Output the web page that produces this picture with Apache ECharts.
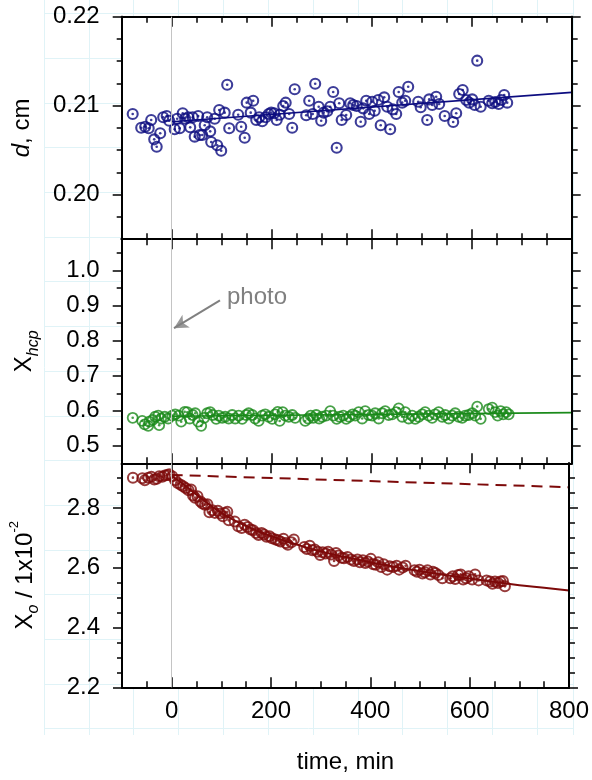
<!DOCTYPE html>
<html><head><meta charset="utf-8">
<script src="https://cdn.jsdelivr.net/npm/echarts@6/dist/echarts.min.js"></script>
<style>html,body{margin:0;padding:0;background:#fff}#c{width:592px;height:780px}</style>
</head><body><div id="c"></div>
<script>
const FONT = 'Liberation Sans, Arial, Helvetica, sans-serif';

// ---- tick values ----
const timeTicks = [0, 200, 400, 600, 800];
const timeMinorTicks = [-50, 50, 100, 150, 250, 300, 350, 450, 500, 550, 650, 700, 750];
const dTicks = [0.20, 0.21, 0.22];
const dMinorTicks = [0.1975, 0.2025, 0.205, 0.2075, 0.2125, 0.215, 0.2175];
const hcpTicks = [0.5, 0.6, 0.7, 0.8, 0.9, 1.0];
const hcpMinorTicks = [0.55, 0.65, 0.75, 0.85, 0.95, 1.05];
const xoTicks = [2.2, 2.4, 2.6, 2.8];
const xoMinorTicks = [2.25, 2.3, 2.35, 2.45, 2.5, 2.55, 2.65, 2.7, 2.75, 2.85, 2.9];

// ---- panel 1: d, cm ----
const dTime = [-78,-61,-53,-46,-41,-35,-30,-23,-17,-10,
  -5,6,11,16,22,27,33,37,42,46,
  53,56,61,66,71,77,79,86,91,95,
  99,106,111,115,133,139,146,150,158,163,
  169,175,181,188,194,199,205,210,216,223,
  228,235,241,246,269,275,282,287,294,299,
  304,311,317,323,330,335,340,
  349,357,363,370,378,383,389,395,401,406,
  413,418,425,431,437,442,449,454,461,467,
  473,493,498,511,515,521,529,535,546,563,
  569,575,582,589,595,601,606,611,618,634,
  641,647,654,659,665,671];
const dValue = [0.20907,0.20753,0.20764,0.20746,0.20839,0.20622,0.20539,0.20690,0.20870,0.20884,
  0.20831,0.20735,0.20854,0.20746,0.20915,0.20854,0.20870,0.20757,0.20870,0.20652,
  0.20884,0.20671,0.20671,0.20780,0.20870,0.20712,0.20592,0.20854,0.20555,0.20952,
  0.20494,0.20922,0.21236,0.20746,0.20899,0.20764,0.20640,0.21034,0.20922,0.21056,
  0.20839,0.20870,0.20825,0.20870,0.20907,0.20922,0.20915,0.20839,0.20899,0.20997,
  0.21034,0.20907,0.20753,0.21184,0.20892,0.21056,0.20907,0.21247,0.20989,0.20831,
  0.20922,0.20937,0.20989,0.21154,0.20528,0.21027,0.20839,
  0.20895,0.21027,0.21008,0.20997,0.20820,0.20970,0.21056,0.20907,0.21045,0.20944,
  0.21064,0.20780,0.21094,0.20989,0.20735,0.20959,0.20907,0.21154,0.21034,0.21056,
  0.21213,0.21045,0.20982,0.20839,0.21071,0.21008,0.21101,0.21019,0.20884,0.20817,
  0.20915,0.21131,0.21176,0.21064,0.21034,0.21071,0.21008,0.21506,0.20989,0.21056,
  0.21027,0.21042,0.21019,0.21064,0.21120,0.21034];
const dFitTime = [0, 800];
const dFitValue = [0.2082, 0.2115];

// ---- panel 2: X_hcp ----
const hcpTime = [-78,-59,-54,-47,-45,-38,-33,-27,-25,-21,
  -14,-7,1,7,14,19,26,31,36,42,
  47,53,59,65,71,77,82,89,94,101,
  107,114,121,127,134,141,149,154,161,167,
  174,181,187,194,201,207,212,216,222,227,
  234,241,247,267,273,278,283,289,295,301,
  309,317,323,330,336,343,349,355,362,367,
  374,381,387,394,401,407,414,421,427,434,
  441,449,454,461,467,474,481,487,494,501,
  507,514,521,527,534,541,547,554,561,567,
  574,581,587,594,601,607,611,618,634,641,
  647,652,658,663,669,674];
const hcpValue = [0.580,0.571,0.561,0.557,0.569,0.574,0.583,0.586,0.559,0.578,
  0.583,0.578,0.586,0.590,0.586,0.569,0.597,0.596,0.578,0.588,
  0.593,0.569,0.557,0.580,0.593,0.596,0.588,0.577,0.586,0.580,
  0.583,0.578,0.588,0.578,0.586,0.577,0.588,0.593,0.588,0.578,
  0.571,0.586,0.590,0.583,0.577,0.590,0.597,0.571,0.596,0.586,
  0.583,0.588,0.580,0.571,0.578,0.586,0.580,0.588,0.578,0.583,
  0.586,0.599,0.586,0.577,0.583,0.586,0.577,0.583,0.590,0.586,
  0.596,0.578,0.599,0.588,0.586,0.593,0.578,0.593,0.599,0.588,
  0.590,0.596,0.607,0.583,0.596,0.578,0.586,0.577,0.583,0.590,
  0.596,0.586,0.580,0.590,0.596,0.583,0.588,0.578,0.586,0.593,
  0.583,0.580,0.586,0.588,0.593,0.586,0.612,0.577,0.605,0.609,
  0.596,0.586,0.599,0.590,0.596,0.590];
const hcpFitTime = [0, 800];
const hcpFitValue = [0.5845, 0.5946];

// ---- panel 3: X_o ----
const xoTime = [-78,-59,-54,-47,-41,-35,-30,-25,-19,-14,
  -9,-5,1,7,12,18,23,28,34,39,
  43,47,52,58,62,67,72,76,82,87,
  93,98,103,107,112,115,127,134,141,147,
  153,159,164,170,175,181,186,191,197,202,
  209,214,219,225,230,234,241,246,267,272,
  278,283,288,294,299,304,310,315,321,327,
  331,336,342,347,354,361,367,374,379,385,
  390,395,401,406,411,416,422,427,434,439,
  446,453,458,465,471,489,494,499,505,510,
  515,521,526,531,537,545,561,566,571,577,
  582,587,593,598,605,611,618,634,641,646,
  651,657,662,667,671];
const xoValue = [2.902,2.900,2.893,2.902,2.905,2.896,2.898,2.907,2.905,2.909,
  2.911,2.913,2.907,2.893,2.884,2.878,2.873,2.867,2.860,2.862,
  2.842,2.835,2.840,2.822,2.815,2.811,2.813,2.786,2.793,2.784,
  2.791,2.782,2.773,2.784,2.788,2.759,2.755,2.739,2.733,2.744,
  2.737,2.728,2.726,2.717,2.710,2.717,2.712,2.704,2.706,2.699,
  2.695,2.692,2.688,2.697,2.683,2.677,2.686,2.695,2.670,2.663,
  2.674,2.659,2.661,2.654,2.643,2.652,2.648,2.654,2.645,2.623,
  2.650,2.641,2.634,2.632,2.636,2.628,2.623,2.628,2.619,2.625,
  2.616,2.621,2.630,2.612,2.610,2.619,2.603,2.612,2.594,2.605,
  2.603,2.607,2.594,2.601,2.607,2.592,2.587,2.594,2.581,2.585,
  2.592,2.578,2.587,2.583,2.576,2.565,2.565,2.572,2.563,2.576,
  2.578,2.561,2.565,2.572,2.561,2.578,2.558,2.558,2.554,2.547,
  2.554,2.549,2.554,2.556,2.538];
const xoFitTime = [0,25,50,100,150,200,250,300,350,400,450,500,550,600,650,700,750,800];
const xoFitValue = [2.908,2.878,2.845,2.784,2.740,2.706,2.679,2.655,2.636,2.619,2.603,2.589,2.576,2.564,2.553,2.542,2.533,2.524];
const xoRefTime = [0, 800];
const xoRefValue = [2.911, 2.870];

// ---- build ----
const zip = (a, b) => a.map((v, i) => [v, b[i]]);
const BG = '#e0f3f7';
const grid = [
  {left: 44, right: 19, top: 0, bottom: 45, show: false, z: 0},
  {left: 44, right: 19, top: 13.5, height: 715.2, show: false, z: 0},
  {left: 121.7, right: 20.3, top: 16.7, height: 222.5, show: true, backgroundColor: '#fff', borderWidth: 0, z: 1},
  {left: 121.7, right: 20.3, top: 239.2, height: 224.1, show: true, backgroundColor: '#fff', borderWidth: 0, z: 1},
  {left: 121.7, right: 20.3, top: 463.3, height: 224, show: true, backgroundColor: '#fff', borderWidth: 0, z: 1}
];
const hidden = {axisLine: {show: false}, axisTick: {show: false}, axisLabel: {show: false}};
const xAxis = [
  Object.assign({type: 'value', gridIndex: 0, min: 0, max: 11.8, interval: 1, z: 0,
    splitLine: {show: true, lineStyle: {color: BG, width: 1}}}, hidden),
  Object.assign({type: 'value', gridIndex: 1, min: 0, max: 1, splitLine: {show: false}, z: 0}, hidden)
];
const yAxis = [
  Object.assign({type: 'value', gridIndex: 0, min: 0, max: 1, splitLine: {show: false}, z: 0}, hidden),
  Object.assign({type: 'value', gridIndex: 1, min: 0, max: 16, interval: 1, z: 0,
    splitLine: {show: true, lineStyle: {color: BG, width: 1}}}, hidden)
];
const axLine = {show: true, onZero: false, lineStyle: {color: '#000', width: 2}};
const labelStyle = {fontSize: 24, color: '#000', fontFamily: FONT};

function addX(gi, showLabels, name) {
  const base = xAxis.length;
  [['bottom', timeTicks, 10], ['bottom', timeMinorTicks, 6], ['top', timeTicks, 10], ['top', timeMinorTicks, 6]]
    .forEach(([pos, vals, len], k) => {
      const ax = {type: 'value', gridIndex: gi, position: pos, min: -100, max: 800, z: 3,
        axisLine: axLine, splitLine: {show: false},
        axisTick: {show: true, inside: true, length: len, customValues: vals, lineStyle: {color: '#000', width: 1.5}},
        axisLabel: {show: false}};
      if (k === 0 && showLabels) {
        ax.axisLabel = Object.assign({show: true, customValues: timeTicks, margin: 12, showMaxLabel: true}, labelStyle);
        ax.name = name; ax.nameLocation = 'middle'; ax.nameGap = 63;
        ax.nameTextStyle = Object.assign({}, labelStyle);
      }
      xAxis.push(ax);
    });
  return base;
}
function addY(gi, min, max, major, minor, fmt, name, rich, nameGap) {
  const base = yAxis.length;
  [['left', major, 9], ['left', minor, 5], ['right', major, 9], ['right', minor, 6]]
    .forEach(([pos, vals, len], k) => {
      const ax = {type: 'value', gridIndex: gi, position: pos, min: min, max: max, z: 3,
        axisLine: axLine, splitLine: {show: false},
        axisTick: {show: true, inside: false, length: len, customValues: vals, lineStyle: {color: '#000', width: 1.5}},
        axisLabel: {show: false}};
      if (k === 0) {
        ax.axisLabel = Object.assign({show: true, customValues: major, margin: 22, formatter: fmt,
          showMinLabel: true, showMaxLabel: true}, labelStyle);
        ax.name = name; ax.nameLocation = 'middle'; ax.nameRotate = 90; ax.nameGap = nameGap;
        ax.nameTextStyle = Object.assign({rich: rich}, labelStyle);
      }
      yAxis.push(ax);
    });
  return base;
}
const nTok = {fontSize: 24, fontFamily: FONT, color: '#000', lineHeight: 34};
const x0 = addX(2, false);
const y0 = addY(2, 0.195, 0.22, dTicks, dMinorTicks, v => v.toFixed(2), '{i|d}{n|, cm}',
  {n: nTok, i: Object.assign({}, nTok, {fontStyle: 'italic'})}, 82);
const x1 = addX(3, false);
const y1 = addY(3, 0.45, 1.09, hcpTicks, hcpMinorTicks, v => v.toFixed(1), '{n|X}{s|hcp}',
  {n: nTok, s: {fontSize: 16, fontFamily: FONT, fontStyle: 'italic', color: '#000', verticalAlign: 'bottom', lineHeight: 18}}, 80);
const x2 = addX(4, true, 'time, min');
const y2 = addY(4, 2.2, 2.95, xoTicks, xoMinorTicks, v => v.toFixed(1), '{n|X}{s|o}{n| / 1x10}{p|-2}',
  {n: nTok, s: {fontSize: 16, fontFamily: FONT, fontStyle: 'italic', color: '#000', verticalAlign: 'bottom', lineHeight: 18},
   p: {fontSize: 13, fontFamily: FONT, color: '#000', verticalAlign: 'top', lineHeight: 24}}, 80);

const vline = {silent: true, symbol: 'none', animation: false, label: {show: false},
  lineStyle: {color: '#c4c4c4', width: 1, type: 'solid'}, data: [{xAxis: 0}]};
const BLUE = '#0c0c80', GREEN = '#1a8a1a', RED = '#7d0a0a';
function rings(xi, yi, data, color, size, bw) {
  return [
    {type: 'scatter', xAxisIndex: xi, yAxisIndex: yi, data: data, symbol: 'circle', symbolSize: size, z: 4,
      itemStyle: {color: 'rgba(255,255,255,0)', borderColor: color, borderWidth: bw}, silent: true},
    {type: 'scatter', xAxisIndex: xi, yAxisIndex: yi, data: data, symbol: 'circle', symbolSize: 2.6, z: 4,
      itemStyle: {color: color}, silent: true}
  ];
}
const series = [
  {type: 'line', xAxisIndex: x0, yAxisIndex: y0, data: zip(dFitTime, dFitValue), showSymbol: false, z: 2,
    lineStyle: {color: BLUE, width: 1.6}, markLine: vline},
  ...rings(x0, y0, zip(dTime, dValue), BLUE, 10, 2.1),
  {type: 'line', xAxisIndex: x1, yAxisIndex: y1, data: zip(hcpFitTime, hcpFitValue), showSymbol: false, z: 2,
    lineStyle: {color: GREEN, width: 1.6}, markLine: vline,
    markPoint: {silent: true, animation: false, data: [{coord: [100.6, 0.925], symbol: 'circle', symbolSize: 0,
      itemStyle: {color: 'rgba(0,0,0,0)'},
      label: {show: true, position: 'right', distance: 5, formatter: 'photo', fontSize: 24, color: '#808080', fontFamily: FONT}}]}},
  {type: 'line', xAxisIndex: x1, yAxisIndex: y1, data: [[96.6, 0.915], [4.6, 0.836]], showSymbol: false, z: 2,
    lineStyle: {color: '#808080', width: 2}, silent: true},
  {type: 'scatter', xAxisIndex: x1, yAxisIndex: y1, data: [[4.6, 0.836]], symbol: 'arrow', symbolSize: [11, 14],
    symbolRotate: 120, symbolOffset: [0, 0], z: 2, silent: true, itemStyle: {color: '#808080'}},
  ...rings(x1, y1, zip(hcpTime, hcpValue), GREEN, 10, 1.8),
  {type: 'line', xAxisIndex: x2, yAxisIndex: y2, data: zip(xoFitTime, xoFitValue), showSymbol: false, smooth: true, z: 2,
    lineStyle: {color: RED, width: 2}, markLine: vline},
  {type: 'line', xAxisIndex: x2, yAxisIndex: y2, data: zip(xoRefTime, xoRefValue), showSymbol: false, z: 2,
    lineStyle: {color: RED, width: 2, type: [11, 7]}},
  ...rings(x2, y2, zip(xoTime, xoValue), RED, 10, 2)
];

const chart = echarts.init(document.getElementById('c'), null, {renderer: 'canvas', width: 592, height: 780});
chart.setOption({animation: false, backgroundColor: '#fff', grid, xAxis, yAxis, series});
</script></body></html>
